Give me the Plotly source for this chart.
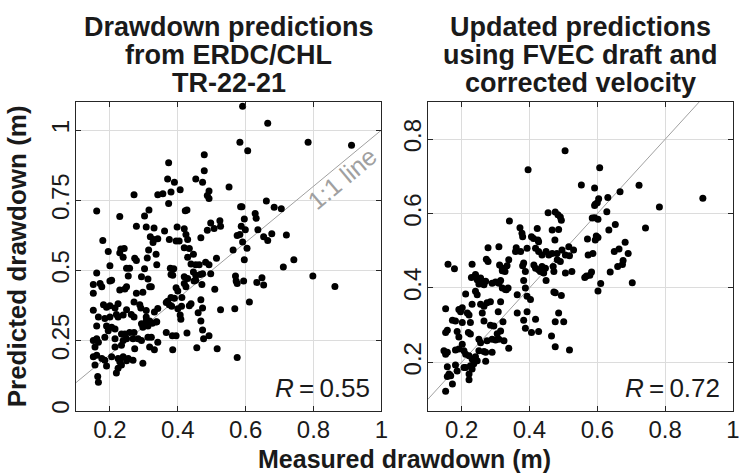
import plotly.graph_objects as go

# ---------------- data ----------------
left_pts = [
    (0.373,0.884),(0.478,0.855),(0.370,0.826),(0.390,0.814),(0.453,0.826),(0.473,0.814),
    (0.551,0.797),(0.407,0.787),(0.380,0.779),(0.492,0.783),(0.487,0.767),(0.492,0.756),
    (0.271,0.770),(0.341,0.770),(0.356,0.773),(0.373,0.738),(0.661,0.747),(0.589,0.727),
    (0.585,0.727),(0.161,0.712),(0.315,0.715),(0.422,0.713),(0.427,0.715),(0.302,0.694),
    (0.229,0.692),(0.628,0.703),(0.631,0.686),(0.596,0.683),(0.497,0.669),(0.524,0.677),
    (0.278,0.657),(0.307,0.655),(0.330,0.651),(0.361,0.640),(0.398,0.655),(0.419,0.648),
    (0.487,0.643),(0.507,0.649),(0.526,0.657),(0.587,0.657),(0.599,0.645),(0.636,0.645),
    (0.319,0.620),(0.329,0.610),(0.341,0.613),(0.375,0.610),(0.395,0.605),(0.404,0.605),
    (0.424,0.628),(0.429,0.610),(0.468,0.616),(0.575,0.624),(0.583,0.628),(0.591,0.601),
    (0.653,0.620),(0.665,0.607),(0.677,0.631),(0.179,0.607),(0.327,0.599),(0.195,0.567),
    (0.232,0.576),(0.242,0.578),(0.229,0.562),(0.239,0.547),(0.273,0.543),(0.278,0.535),
    (0.314,0.573),(0.336,0.558),(0.419,0.581),(0.434,0.578),(0.446,0.558),(0.429,0.547),
    (0.563,0.573),(0.604,0.579),(0.596,0.538),(0.310,0.544),(0.338,0.520),(0.200,0.517),
    (0.249,0.508),(0.258,0.508),(0.302,0.506),(0.378,0.508),(0.388,0.506),(0.439,0.523),
    (0.453,0.520),(0.463,0.520),(0.482,0.529),(0.492,0.520),(0.514,0.543),(0.161,0.491),
    (0.254,0.480),(0.293,0.477),(0.205,0.465),(0.200,0.462),(0.312,0.469),(0.380,0.485),
    (0.385,0.483),(0.419,0.477),(0.429,0.471),(0.446,0.494),(0.453,0.483),(0.466,0.485),
    (0.473,0.488),(0.497,0.488),(0.570,0.480),(0.648,0.474),(0.151,0.450),(0.171,0.453),
    (0.176,0.442),(0.229,0.430),(0.249,0.442),(0.244,0.434),(0.317,0.442),(0.322,0.442),
    (0.419,0.453),(0.424,0.442),(0.448,0.462),(0.453,0.465),(0.471,0.450),(0.509,0.433),
    (0.575,0.453),(0.594,0.462),(0.633,0.457),(0.653,0.448),(0.572,0.462),(0.151,0.419),
    (0.278,0.419),(0.297,0.422),(0.395,0.438),(0.400,0.427),(0.370,0.390),(0.380,0.403),
    (0.390,0.401),(0.412,0.403),(0.366,0.386),(0.151,0.358),(0.181,0.378),(0.190,0.369),
    (0.200,0.374),(0.215,0.366),(0.224,0.381),(0.249,0.360),(0.271,0.387),(0.288,0.378),
    (0.291,0.366),(0.307,0.357),(0.331,0.352),(0.341,0.364),(0.375,0.378),(0.382,0.372),
    (0.400,0.363),(0.411,0.372),(0.434,0.374),(0.439,0.381),(0.468,0.395),(0.473,0.366),
    (0.526,0.360),(0.568,0.363),(0.611,0.387),(0.166,0.334),(0.185,0.329),(0.200,0.334),
    (0.219,0.343),(0.224,0.334),(0.239,0.341),(0.263,0.343),(0.271,0.334),(0.307,0.334),
    (0.307,0.320),(0.317,0.320),(0.336,0.316),(0.407,0.341),(0.409,0.326),(0.460,0.349),
    (0.468,0.320),(0.161,0.302),(0.190,0.302),(0.205,0.297),(0.215,0.291),(0.195,0.285),
    (0.234,0.273),(0.244,0.273),(0.258,0.279),(0.271,0.279),(0.293,0.310),(0.302,0.308),
    (0.297,0.297),(0.312,0.302),(0.325,0.312),(0.338,0.317),(0.366,0.279),(0.395,0.267),
    (0.384,0.267),(0.427,0.277),(0.473,0.288),(0.476,0.256),(0.492,0.267),(0.151,0.250),
    (0.161,0.256),(0.166,0.244),(0.185,0.262),(0.215,0.256),(0.239,0.250),(0.249,0.256),
    (0.268,0.256),(0.283,0.256),(0.293,0.250),(0.312,0.262),(0.322,0.262),(0.341,0.244),
    (0.156,0.227),(0.215,0.227),(0.234,0.233),(0.273,0.221),(0.317,0.227),(0.331,0.217),
    (0.385,0.217),(0.456,0.224),(0.516,0.221),(0.151,0.192),(0.161,0.198),(0.176,0.186),
    (0.185,0.180),(0.205,0.192),(0.224,0.186),(0.239,0.192),(0.254,0.186),(0.268,0.180),
    (0.297,0.169),(0.229,0.174),(0.575,0.190),(0.156,0.163),(0.190,0.159),(0.224,0.151),
    (0.234,0.163),(0.249,0.178),(0.164,0.122),(0.219,0.134),(0.166,0.101),
    (0.591,1.085),(0.665,1.024),(0.583,0.957),(0.606,0.926),(0.784,0.957),(0.912,0.946),
    (0.478,0.912),(0.705,0.720),(0.720,0.626),(0.742,0.538),(0.711,0.512),(0.798,0.480),
    (0.863,0.443),(0.684,0.725),
]

right_pts = [
    (0.396,0.718),(0.553,0.677),(0.455,0.602),(0.476,0.604),(0.484,0.597),(0.491,0.591),
    (0.494,0.582),(0.341,0.580),(0.372,0.562),(0.378,0.547),(0.380,0.538),(0.423,0.560),
    (0.467,0.556),(0.486,0.557),(0.406,0.538),(0.412,0.533),(0.425,0.529),(0.427,0.524),
    (0.475,0.529),(0.278,0.508),(0.310,0.511),(0.361,0.508),(0.359,0.498),(0.374,0.498),
    (0.393,0.507),(0.418,0.507),(0.427,0.498),(0.437,0.489),(0.449,0.498),(0.457,0.489),
    (0.467,0.493),(0.481,0.493),(0.496,0.502),(0.516,0.511),(0.530,0.502),(0.518,0.487),
    (0.506,0.489),(0.160,0.464),(0.179,0.452),(0.231,0.464),(0.273,0.477),(0.278,0.471),
    (0.312,0.462),(0.320,0.453),(0.334,0.460),(0.339,0.476),(0.320,0.446),(0.328,0.444),
    (0.383,0.467),(0.380,0.460),(0.388,0.444),(0.413,0.462),(0.418,0.453),(0.427,0.449),
    (0.432,0.444),(0.437,0.458),(0.442,0.440),(0.447,0.453),(0.470,0.458),(0.482,0.476),
    (0.491,0.471),(0.472,0.444),(0.506,0.440),(0.525,0.444),(0.563,0.428),(0.449,0.420),
    (0.229,0.428),(0.241,0.436),(0.246,0.422),(0.256,0.427),(0.261,0.413),(0.271,0.418),
    (0.266,0.409),(0.251,0.411),(0.290,0.413),(0.300,0.416),(0.310,0.413),(0.320,0.400),
    (0.329,0.396),(0.315,0.420),(0.337,0.400),(0.332,0.395),(0.383,0.420),(0.388,0.400),
    (0.364,0.382),(0.393,0.378),(0.403,0.369),(0.212,0.384),(0.241,0.391),(0.246,0.382),
    (0.231,0.356),(0.256,0.356),(0.266,0.351),(0.275,0.360),(0.285,0.363),(0.261,0.333),
    (0.315,0.363),(0.308,0.336),(0.472,0.389),(0.476,0.387),(0.494,0.380),(0.153,0.344),
    (0.192,0.342),(0.197,0.336),(0.202,0.347),(0.217,0.333),(0.222,0.327),(0.173,0.313),
    (0.182,0.311),(0.202,0.307),(0.226,0.307),(0.266,0.311),(0.285,0.300),(0.295,0.298),
    (0.322,0.309),(0.305,0.277),(0.315,0.284),(0.364,0.333),(0.393,0.336),(0.383,0.313),
    (0.418,0.316),(0.388,0.292),(0.406,0.280),(0.427,0.283),(0.476,0.309),(0.501,0.309),
    (0.486,0.333),(0.465,0.271),(0.476,0.242),(0.518,0.233),(0.158,0.286),(0.153,0.280),
    (0.187,0.283),(0.192,0.268),(0.220,0.280),(0.226,0.276),(0.202,0.249),(0.251,0.262),
    (0.256,0.253),(0.275,0.258),(0.290,0.262),(0.300,0.260),(0.310,0.262),(0.325,0.258),
    (0.339,0.238),(0.251,0.231),(0.266,0.229),(0.148,0.231),(0.153,0.222),(0.158,0.227),
    (0.182,0.233),(0.192,0.236),(0.207,0.231),(0.212,0.222),(0.222,0.218),(0.231,0.209),
    (0.241,0.215),(0.246,0.204),(0.236,0.196),(0.226,0.191),(0.271,0.227),(0.290,0.227),
    (0.271,0.203),(0.158,0.188),(0.182,0.193),(0.187,0.177),(0.207,0.186),(0.212,0.186),
    (0.231,0.182),(0.163,0.169),(0.158,0.162),(0.168,0.164),(0.222,0.169),(0.173,0.142),
    (0.222,0.153),(0.153,0.122),
    (0.505,0.769),(0.607,0.723),(0.592,0.669),(0.723,0.676),(0.667,0.659),(0.631,0.643),
    (0.604,0.640),(0.600,0.629),(0.594,0.625),(0.592,0.622),(0.911,0.641),(0.783,0.618),
    (0.628,0.605),(0.585,0.588),(0.592,0.589),(0.602,0.585),(0.653,0.571),(0.634,0.556),
    (0.742,0.561),(0.597,0.540),(0.602,0.536),(0.594,0.529),(0.571,0.532),(0.682,0.523),
    (0.650,0.498),(0.664,0.505),(0.691,0.493),(0.573,0.489),(0.587,0.493),(0.676,0.474),
    (0.674,0.463),(0.660,0.458),(0.638,0.443),(0.703,0.414),(0.610,0.412),(0.602,0.392),
    (0.583,0.443),(0.578,0.434),(0.568,0.432),
]

left_measured = [p[0] for p in left_pts]
left_predicted = [p[1] for p in left_pts]
right_measured = [p[0] for p in right_pts]
right_predicted = [p[1] for p in right_pts]

one_to_one = [0.1, 1.0]

x_ticks = [0.2, 0.4, 0.6, 0.8, 1.0]
x_ticktext = ["0.2", "0.4", "0.6", "0.8", "1"]
yl_ticks = [0, 0.25, 0.5, 0.75, 1.0]
yl_ticktext = ["0", "0.25", "0.5", "0.75", "1"]
yr_ticks = [0.2, 0.4, 0.6, 0.8]
yr_ticktext = ["0.2", "0.4", "0.6", "0.8"]

title_left = ["Drawdown predictions", "from ERDC/CHL", "TR-22-21"]
title_right = ["Updated predictions", "using FVEC draft and", "corrected velocity"]
r_left = "0.55"
r_right = "0.72"

# ---------------- figure ----------------
FONT = "Liberation Sans, Arial, Helvetica, sans-serif"
AX = "#262626"
GRID = "#dcdcdc"
LINE_GRAY = "#a0a0a0"
TXT = "#1a1a1a"

fig = go.Figure()
fig.add_trace(go.Scatter(x=one_to_one, y=one_to_one, mode="lines",
                         line=dict(color=LINE_GRAY, width=1), xaxis="x", yaxis="y",
                         showlegend=False, hoverinfo="skip"))
fig.add_trace(go.Scatter(x=left_measured, y=left_predicted, mode="markers",
                         marker=dict(color="black", size=7, line=dict(width=0)),
                         xaxis="x", yaxis="y", showlegend=False))
fig.add_trace(go.Scatter(x=one_to_one, y=one_to_one, mode="lines",
                         line=dict(color=LINE_GRAY, width=1), xaxis="x2", yaxis="y2",
                         showlegend=False, hoverinfo="skip"))
fig.add_trace(go.Scatter(x=right_measured, y=right_predicted, mode="markers",
                         marker=dict(color="black", size=7, line=dict(width=0)),
                         xaxis="x2", yaxis="y2", showlegend=False))

def axstyle(**kw):
    d = dict(showline=True, linecolor=AX, linewidth=1, mirror="allticks",
             ticks="inside", ticklen=5, tickcolor=AX, tickwidth=1,
             showgrid=True, gridcolor=GRID, gridwidth=1, zeroline=False,
             tickfont=dict(family=FONT, size=24, color=TXT), fixedrange=True)
    d.update(kw)
    return d

YDOM = [0.1299, 0.7838]
fig.update_layout(
    width=747, height=475,
    margin=dict(l=0, r=0, t=0, b=0),
    paper_bgcolor="white", plot_bgcolor="white",
    xaxis=axstyle(domain=[0.1027, 0.5154], range=[0.1, 1.0], tickvals=x_ticks,
                  ticktext=x_ticktext, anchor="y", ticklabelstandoff=-2),
    yaxis=axstyle(domain=YDOM, range=[0, 1.1], tickvals=yl_ticks,
                  ticktext=yl_ticktext, tickangle=-90, anchor="x", ticklabelstandoff=-4),
    xaxis2=axstyle(domain=[0.5779, 0.9906], range=[0.1, 1.0], tickvals=x_ticks,
                   ticktext=x_ticktext, anchor="y2", ticklabelstandoff=-2),
    yaxis2=axstyle(domain=YDOM, range=[0.07, 0.9], tickvals=yr_ticks,
                   ticktext=yr_ticktext, tickangle=-90, anchor="x2", ticklabelstandoff=-4),
)

ann = []
line_y = [0.943, 0.884, 0.825]
for txt, yy in zip(title_left, line_y):
    ann.append(dict(text="<b>" + txt + "</b>", x=0.309, y=yy, xref="paper", yref="paper",
                    xanchor="center", yanchor="middle", showarrow=False,
                    font=dict(family=FONT, size=27, color=TXT)))
for txt, yy in zip(title_right, line_y):
    ann.append(dict(text="<b>" + txt + "</b>", x=0.784, y=yy, xref="paper", yref="paper",
                    xanchor="center", yanchor="middle", showarrow=False,
                    font=dict(family=FONT, size=27, color=TXT)))
ann.append(dict(text="<b>Predicted drawdown (m)</b>", x=0.023, y=0.457, xref="paper", yref="paper",
                xanchor="center", yanchor="middle", textangle=-90, showarrow=False,
                font=dict(family=FONT, size=26, color=TXT)))
ann.append(dict(text="<b>Measured drawdown (m)</b>", x=0.546, y=0.028, xref="paper", yref="paper",
                xanchor="center", yanchor="middle", showarrow=False,
                font=dict(family=FONT, size=25, color=TXT)))
ann.append(dict(text="<i>R</i>\u2009=\u2009" + r_left, x=0.503, y=0.141, xref="paper", yref="paper",
                xanchor="right", yanchor="bottom", showarrow=False,
                font=dict(family=FONT, size=26, color=TXT)))
ann.append(dict(text="<i>R</i>\u2009=\u2009" + r_right, x=0.976, y=0.141, xref="paper", yref="paper",
                xanchor="right", yanchor="bottom", showarrow=False,
                font=dict(family=FONT, size=26, color=TXT)))
ann.append(dict(text="1:1 line", x=0.463, y=0.622, xref="paper", yref="paper",
                xanchor="center", yanchor="middle", textangle=-40, showarrow=False,
                font=dict(family=FONT, size=25, color=LINE_GRAY)))
fig.update_layout(annotations=ann)

fig.write_html("out.html")
